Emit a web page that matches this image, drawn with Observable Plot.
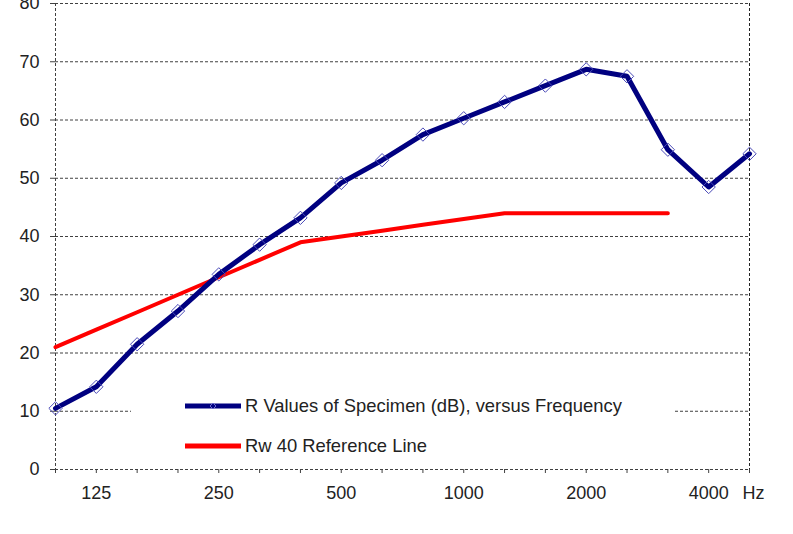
<!DOCTYPE html>
<html><head><meta charset="utf-8">
<script src="https://cdn.jsdelivr.net/npm/d3@7"></script>
<script src="https://cdn.jsdelivr.net/npm/@observablehq/plot@0.6"></script>
<style>
body{margin:0;background:#fff;font-family:"Liberation Sans",Arial,sans-serif}
#wrap{position:relative;width:793px;height:534px;overflow:hidden}
#legend{position:absolute;left:131px;top:386px;width:544px;height:76px;background:#fff}
.row{position:absolute;left:54px;height:20px;display:flex;align-items:center;font-size:18.4px;color:#222;white-space:nowrap}
.row svg{display:block;margin-right:4px}
</style></head><body><div id="wrap"><div id="legend"></div></div>
<script>
const frequencies = [100,125,160,200,250,315,400,500,630,800,1000,1250,1600,2000,2500,3150,4000,5000];
const specimenDb = [10.5,14.2,21.5,27.2,33.5,38.6,43.2,49.2,53.1,57.5,60.3,63.1,65.9,68.7,67.5,54.9,48.5,54.2];
const referenceFreqs = [100,125,160,200,250,315,400,500,630,800,1000,1250,1600,2000,2500,3150];
const referenceDb = [21,24,27,30,33,36,39,40,41,42,43,44,44,44,44,44];
const xTickLabels = {125:"125",250:"250",500:"500",1000:"1000",2000:"2000",4000:"4000"};
const unitLabel = "Hz";
const yTicks = [0,10,20,30,40,50,60,70,80];
const seriesNames = ["R Values of Specimen (dB), versus Frequency","Rw 40 Reference Line"];
const seriesColors = ["#000080","#ff0000"];

const specimen = frequencies.map((f,i)=>({f, v: specimenDb[i]}));
const reference = referenceFreqs.map((f,i)=>({f, v: referenceDb[i]}));
const grid = "#404040";
const lastF = frequencies[frequencies.length-1];

const chart = Plot.plot({
  width: 793, height: 534,
  marginLeft: 55, marginRight: 44, marginTop: 3, marginBottom: 65,
  style: {fontFamily: "Liberation Sans, Arial, sans-serif", fontSize: "18px", color: "#222", background: "white"},
  x: {type: "point", domain: frequencies, padding: 0, round: false},
  y: {domain: [0, 80]},
  marks: [
    Plot.gridY(yTicks.filter(d=>d>0), {stroke: grid, strokeOpacity: 1, strokeDasharray: "3,2"}),
    Plot.ruleY([0], {stroke: grid, strokeDasharray: "3,2"}),
    Plot.ruleX([frequencies[0]], {stroke: grid, strokeDasharray: "3,2"}),
    Plot.ruleX([lastF], {stroke: "#222", strokeDasharray: "3,2"}),
    Plot.axisY({ticks: yTicks, tickSize: 5, tickPadding: 11, label: null, stroke: grid, fontSize: 18}),
    Plot.axisX({ticks: frequencies, tickSize: 4, tickPadding: 13, label: null, stroke: grid, fontSize: 18,
      tickFormat: d => (xTickLabels[d] ?? "")}),
    Plot.axisX({ticks: [lastF], tickSize: 0, tickPadding: 17, label: null, fontSize: 18, dx: 4,
      tickFormat: () => unitLabel}),
    Plot.line(reference, {x: "f", y: "v", stroke: seriesColors[1], strokeWidth: 4}),
    Plot.line(specimen, {x: "f", y: "v", stroke: seriesColors[0], strokeWidth: 5}),
    Plot.dot(specimen, {x: "f", y: "v", symbol: "diamond2", r: 6, stroke: "#4a4ab8", strokeWidth: 1, fill: "none"})
  ]
});
document.getElementById("wrap").prepend(chart);
chart.style.position = "absolute"; chart.style.left = "0"; chart.style.top = "0";

const legend = document.getElementById("legend");
seriesNames.forEach((name,i)=>{
  const row = document.createElement("div");
  row.className = "row";
  row.style.top = (i === 0 ? 10 : 50) + "px";
  const sw = i === 0
    ? `<svg width="56" height="10"><line x1="0" x2="56" y1="5" y2="5" stroke="${seriesColors[0]}" stroke-width="5" stroke-linecap="round"/><path d="M28,2L31,5L28,8L25,5Z" fill="none" stroke="#6a6ad0" stroke-width="1"/></svg>`
    : `<svg width="56" height="10"><line x1="0" x2="56" y1="5" y2="5" stroke="${seriesColors[1]}" stroke-width="5" stroke-linecap="round"/></svg>`;
  row.innerHTML = sw + `<span>${name}</span>`;
  legend.appendChild(row);
});
</script>
</body></html>
